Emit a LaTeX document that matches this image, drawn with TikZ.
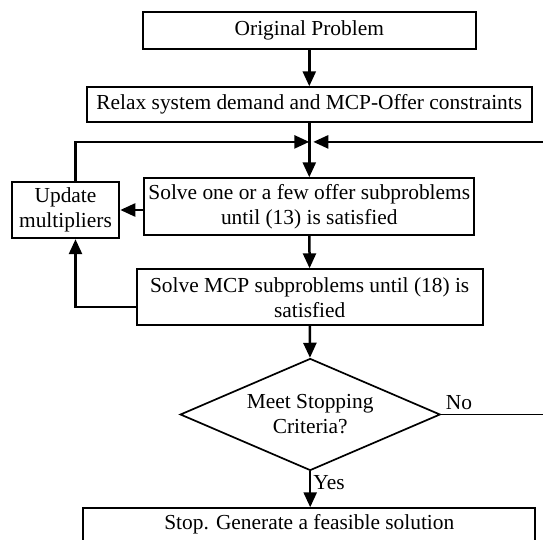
\documentclass[tikz,border=0pt]{standalone}
\usepackage{fontspec}
\setmainfont{Liberation Serif}
\usepackage{tikz}
\usetikzlibrary{positioning, shapes.geometric, arrows.meta, calc}

\begin{document}
\begin{tikzpicture}[x=0.5pt, y=-0.5pt,
        font=\fontsize{10.7pt}{12.5pt}\selectfont,
        block/.style={rectangle, draw, line width=1pt, align=center, inner sep=0pt},
        decision/.style={diamond, draw, line width=0.85pt, align=center, inner sep=0pt, aspect=2.3},
        flow/.style={line width=1.25pt, -{Triangle[length=7.5pt, width=6.5pt]}},
        plain/.style={line width=1.2pt}]

        \useasboundingbox (0,0) rectangle (543,540);

        \node[block, minimum width=166.5pt, minimum height=18.8pt] (orig) at (309.3,30.5) {Original Problem};
        \node[block, minimum width=222.6pt, minimum height=17.2pt] (relax) at (309.3,104.5) {Relax system demand and MCP-Offer constraints};
        \node[block, minimum width=165pt, minimum height=28.4pt] (offer) at (309.3,206.7) {Solve one or a few offer subproblems\\until (13) is satisfied};
        \node[block, minimum width=53.8pt, minimum height=28.2pt] (update) at (65.5,210) {Update\\multipliers};
        \node[block, minimum width=173pt, minimum height=27.9pt] (mcp) at (309.7,297.2) {Solve MCP subproblems until (18) is\\satisfied};
        \node[decision, minimum width=130pt, minimum height=56pt] (check) at (310.2,414.5) {Meet Stopping\\Criteria?};
        \node[block, anchor=north, minimum width=226pt, inner ysep=3pt, text height=7.4pt, text depth=20pt] (stop) at (309.3,507.3) {Stop. Generate a feasible solution};

        % main line
        \coordinate (join) at ($(relax.south)+(0,19.2)$);
        \draw[flow] (orig) -- (relax);
        \draw[flow] (relax) -- (offer);
        \draw[flow] (offer) -- (mcp);
        \draw[flow] (mcp) -- (check);
        \draw[flow] (check.south) -- (check.south |- stop.north) node[pos=0.3, right, inner sep=1pt] {Yes};

        % multiplier loop
        \draw[flow] (update.east -| offer.west) -- (update.east);
        \draw[flow] ([yshift=-5pt]mcp.west) -| ([xshift=5pt]update.south);
        \draw[flow] ([xshift=5pt]update.north) |- (join);

        % back to the start when not converged
        \draw[line width=0.85pt] (check.east) -- (548,414.5) node[pos=0, anchor=south west, inner sep=2pt] {No};
        \draw[flow, shorten >=2pt] (548,414.5) |- (join);
      \end{tikzpicture}
\end{document}
